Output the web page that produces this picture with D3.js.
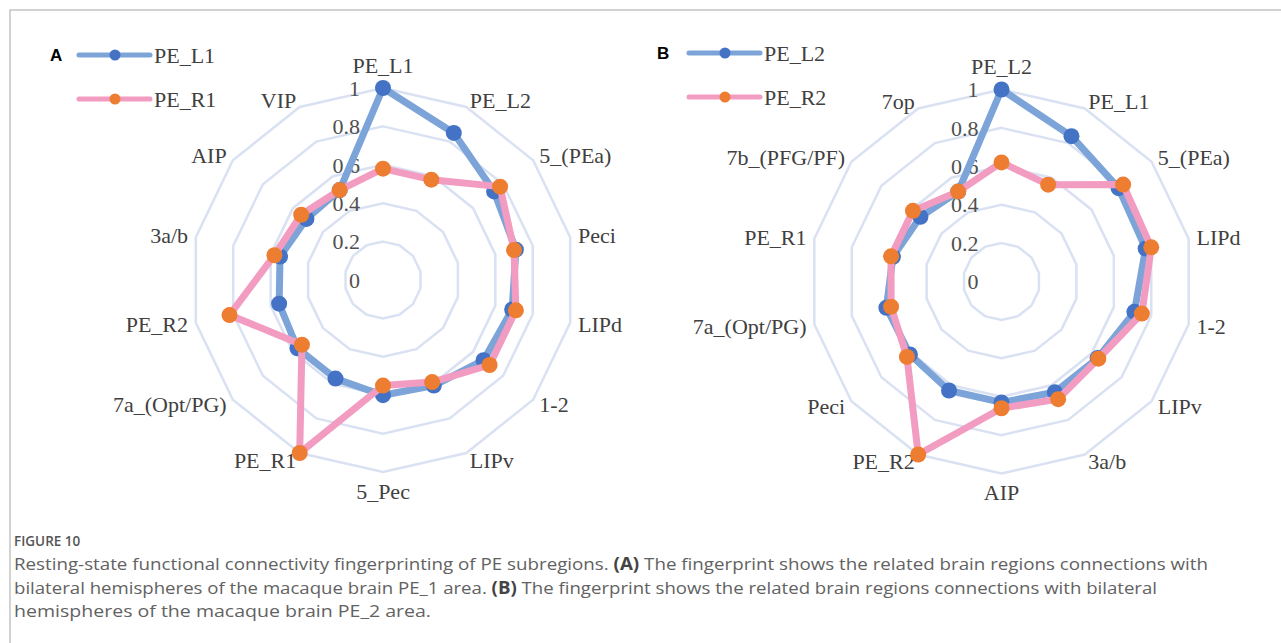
<!DOCTYPE html>
<meta charset="utf-8">
<style>
    body {
        margin: 0;
        background-color: #ffffff;
    }

    svg {
        display: block;
    }

    .cat {
        font: 22px "Liberation Serif", "Times New Roman", serif;
        fill: #404040;
    }

    .tick {
        font: 22px "Liberation Serif", "Times New Roman", serif;
        fill: #505050;
    }

    .panel-letter {
        font: bold 17px "Liberation Sans", Arial, sans-serif;
        fill: #000;
    }

    .caption {
        font: 17px "Open Sans", sans-serif;
        fill: #626262;
    }
</style>
<body>
<script src="https://cdn.jsdelivr.net/npm/d3@7"></script>
<script>

    // panel A categories, clockwise from the top
    const categoriesA = ['PE_L1', 'PE_L2', '5_(PEa)', 'Peci', 'LIPd', '1-2', 'LIPv',
        '5_Pec', 'PE_R1', '7a_(Opt/PG)', 'PE_R2', '3a/b', 'AIP', 'VIP'];
    const valuesPE_L1 = [1.0, 0.85, 0.74, 0.71, 0.69, 0.67, 0.61, 0.60, 0.57, 0.57, 0.555, 0.55, 0.51, 0.52];
    const valuesPE_R1 = [0.58, 0.58, 0.78, 0.70, 0.71, 0.71, 0.59, 0.55, 1.0, 0.54, 0.82, 0.58, 0.545, 0.52];

    // panel B categories, clockwise from the top
    const categoriesB = ['PE_L2', 'PE_L1', '5_(PEa)', 'LIPd', '1-2', 'LIPv', '3a/b',
        'AIP', 'PE_R2', 'Peci', '7a_(Opt/PG)', 'PE_R1', '7b_(PFG/PF)', '7op'];
    const valuesPE_L2 = [1.0, 0.84, 0.78, 0.77, 0.71, 0.64, 0.64, 0.63, 0.63, 0.61, 0.615, 0.58, 0.54, 0.52];
    const valuesPE_R2 = [0.62, 0.56, 0.81, 0.80, 0.75, 0.645, 0.68, 0.66, 1.0, 0.63, 0.59, 0.59, 0.59, 0.52];

    const tickValues = [0, 0.2, 0.4, 0.6, 0.8, 1];
    const tickLabels = ['0', '0.2', '0.4', '0.6', '0.8', '1'];

    const captionTitle = 'FIGURE 10';
    const captionLines = [
        [['Resting-state functional connectivity fingerprinting of PE subregions. ', false], ['(A)', true],
         [' The fingerprint shows the related brain regions connections with', false]],
        [['bilateral hemispheres of the macaque brain PE_1 area. ', false], ['(B)', true],
         [' The fingerprint shows the related brain regions connections with bilateral', false]],
        [['hemispheres of the macaque brain PE_2 area.', false]]
    ];

    const width = 1281;
    const height = 643;
    const outer = 192;

    const blueLine = '#7ca4d8', blueDot = '#4472c4';
    const pinkLine = '#f29cc2', orangeDot = '#ed7d31';

    const svg = d3.select('body')
        .append('svg')
        .attr('width', width)
        .attr('height', height);

    // page frame (top and left rules)
    svg.append('path')
        .attr('d', 'M10,643 V10 H1281')
        .style('fill', 'none')
        .style('stroke', '#c4c4c4')
        .style('stroke-width', 1.5);

    const r = d3.scaleLinear().domain([0, 1]).range([0, outer]);

    function drawRadar(cx, cy, cats, seriesList, letter, legendPos) {
        const n = cats.length;
        const angle = d3.scaleLinear().domain([0, n]).range([0, 2 * Math.PI]);
        const g = svg.append('g').attr('transform', 'translate(' + cx + ',' + cy + ')');

        const ring = d3.lineRadial()
            .angle((d, i) => angle(i))
            .radius(d => r(d))
            .curve(d3.curveLinearClosed);

        // grid rings
        g.append('g').attr('class', 'grid')
            .selectAll('path')
            .data(tickValues.filter(t => t > 0))
            .enter().append('path')
            .attr('d', t => ring(d3.range(n).map(() => t)))
            .style('fill', 'none')
            .style('stroke', '#d9e1f2')
            .style('stroke-width', 2.5);

        // value labels left of the vertical axis
        g.append('g')
            .selectAll('text')
            .data(tickValues)
            .enter().append('text')
            .attr('class', 'tick')
            .attr('x', -23)
            .attr('y', d => -r(d))
            .attr('dy', '0.35em')
            .style('text-anchor', 'end')
            .text((d, i) => tickLabels[i]);

        // category labels
        g.append('g')
            .selectAll('text')
            .data(cats)
            .enter().append('text')
            .attr('class', 'cat')
            .attr('x', (d, i) => 200 * Math.sin(angle(i)))
            .attr('y', (d, i) => {
                let y = -200 * Math.cos(angle(i));
                if (i === 0) y -= 15;
                if (i === n / 2) y += 11;
                return y;
            })
            .attr('dy', '0.35em')
            .style('text-anchor', (d, i) => {
                if (i === 0 || i === n / 2) return 'middle';
                return i < n / 2 ? 'start' : 'end';
            })
            .text(d => d);

        // series: line then markers
        seriesList.forEach(s => {
            const sg = g.append('g');
            sg.append('path')
                .datum(s.values)
                .attr('d', ring)
                .style('fill', 'none')
                .style('stroke', s.line)
                .style('stroke-width', 7)
                .style('stroke-linejoin', 'round');
            sg.selectAll('circle')
                .data(s.values)
                .enter().append('circle')
                .attr('cx', (d, i) => r(d) * Math.sin(angle(i)))
                .attr('cy', (d, i) => -r(d) * Math.cos(angle(i)))
                .attr('r', 8)
                .style('fill', s.dot);
        });

        // panel letter and legend
        svg.append('text')
            .attr('class', 'panel-letter')
            .attr('x', legendPos.letterX)
            .attr('y', legendPos.y)
            .attr('dy', '0.36em')
            .text(letter);

        const legend = svg.append('g').selectAll('g')
            .data(seriesList)
            .enter().append('g')
            .attr('transform', (d, i) => 'translate(' + legendPos.x + ',' + (legendPos.y + i * 44) + ')');
        legend.append('line')
            .attr('x1', 0).attr('x2', 71)
            .style('stroke', d => d.line)
            .style('stroke-width', 5)
            .style('stroke-linecap', 'round');
        legend.append('circle')
            .attr('cx', 36)
            .attr('r', 5.5)
            .style('fill', d => d.dot);
        legend.append('text')
            .attr('class', 'cat')
            .attr('x', 75)
            .attr('dy', '0.35em')
            .text(d => d.name);
    }

    drawRadar(383, 280, categoriesA, [
        {name: 'PE_L1', values: valuesPE_L1, line: blueLine, dot: blueDot},
        {name: 'PE_R1', values: valuesPE_R1, line: pinkLine, dot: orangeDot}
    ], 'A', {letterX: 50, x: 79, y: 55});

    drawRadar(1001.5, 281.5, categoriesB, [
        {name: 'PE_L2', values: valuesPE_L2, line: blueLine, dot: blueDot},
        {name: 'PE_R2', values: valuesPE_R2, line: pinkLine, dot: orangeDot}
    ], 'B', {letterX: 657, x: 689, y: 53});

    // caption
    svg.append('text')
        .attr('x', 14)
        .attr('y', 541)
        .attr('dy', '0.35em')
        .style('font', '600 13.5px "Open Sans", sans-serif')
        .style('fill', '#555')
        .text(captionTitle);

    const lineEnds = [1208, 1157, 431];
    const lineY = [564, 588, 611];
    captionLines.forEach((parts, li) => {
        const t = svg.append('text')
            .attr('class', 'caption')
            .attr('x', 14)
            .attr('y', lineY[li])
            .attr('dy', '0.35em')
            .attr('textLength', lineEnds[li] - 14)
            .attr('lengthAdjust', 'spacingAndGlyphs');
        parts.forEach(p => {
            t.append('tspan')
                .style('font-weight', p[1] ? 700 : 400)
                .style('fill', p[1] ? '#444' : null)
                .text(p[0]);
        });
    });

</script>
</body>
</html>
